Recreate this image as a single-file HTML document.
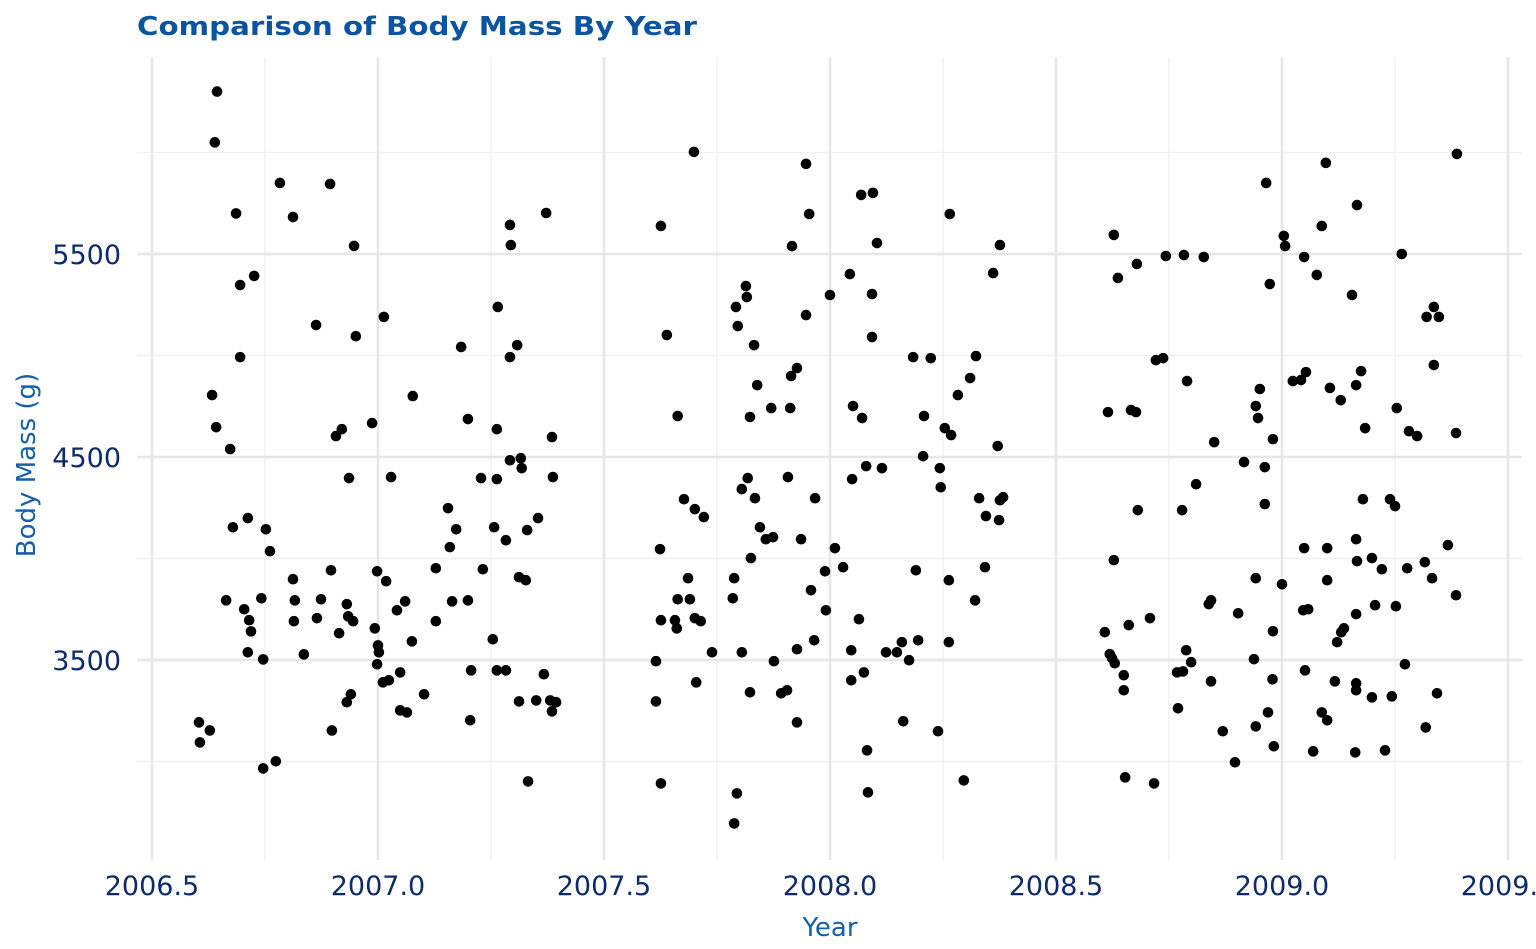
<!DOCTYPE html>
<html><head><meta charset="utf-8"><style>
html,body{margin:0;padding:0;background:#fff;overflow:hidden;}
svg{display:block;font-family:"DejaVu Sans","Liberation Sans",sans-serif;}
</style></head><body>
<svg id="chart" width="1536" height="949" viewBox="0 0 1536 949" xmlns="http://www.w3.org/2000/svg">
<text x="137" y="35" font-size="26" font-weight="bold" fill="#0b55a0" textLength="560" lengthAdjust="spacingAndGlyphs">Comparison of Body Mass By Year</text>
<g id="grid"></g>
<g id="points"></g>
<g id="axes"></g>
<text transform="translate(35,465) rotate(-90)" text-anchor="middle" font-size="26" fill="#1560a8">Body Mass (g)</text>
<text x="830" y="936" text-anchor="middle" font-size="26" fill="#1560a8">Year</text>
</svg>
<script>
const years = [
2006.644,2006.639,2006.686,2006.783,2006.894,2006.812,2006.695,2006.726,2006.947,2006.863,2007.013,2006.951,2006.695,2006.633,2006.642,2006.673,2007.077,2006.987,2006.920,2006.907,2006.936,2007.029,2006.679,2006.712,2006.752,2006.761,2006.664,2006.704,2006.742,2006.715,2006.719,2006.712,2006.746,2006.812,2006.816,2006.874,2006.814,2006.865,2006.836,2006.896,2006.931,2006.934,2006.945,2006.914,2006.940,2006.931,2006.998,2007.018,2006.993,2007.000,2007.002,2006.998,2007.042,2007.060,2007.075,2007.049,2007.024,2007.011,2007.049,2007.064,2007.102,2006.604,2006.628,2006.606,2006.746,2006.774,2006.898,2007.184,2007.199,2007.265,2007.292,2007.294,2007.292,2007.308,2007.372,2007.263,2007.385,2007.292,2007.316,2007.318,2007.228,2007.263,2007.387,2007.155,2007.173,2007.159,2007.257,2007.283,2007.354,2007.330,2007.128,2007.232,2007.164,2007.199,2007.128,2007.312,2007.327,2007.254,2007.206,2007.263,2007.283,2007.367,2007.312,2007.350,2007.381,2007.394,2007.385,2007.204,2007.332,
2007.699,2007.947,2007.626,2007.954,2008.069,2008.095,2008.265,2007.916,2008.104,2008.376,2007.814,2007.792,2007.816,2008.044,2008.000,2008.093,2008.361,2007.947,2007.639,2007.796,2007.832,2008.093,2008.184,2008.223,2008.323,2007.927,2007.914,2008.310,2007.839,2007.870,2007.912,2007.663,2007.823,2008.051,2008.071,2008.208,2008.283,2008.254,2008.268,2008.371,2008.206,2008.080,2008.115,2008.243,2008.049,2007.907,2007.818,2007.805,2008.245,2007.677,2007.701,2007.721,2007.834,2007.967,2008.330,2008.383,2008.376,2008.345,2008.374,2007.845,2007.858,2007.874,2007.936,2007.624,2008.011,2007.825,2008.029,2007.989,2008.190,2008.343,2007.686,2007.788,2008.263,2007.958,2007.663,2007.690,2007.785,2008.321,2007.991,2007.626,2007.657,2007.661,2007.701,2007.714,2008.064,2007.965,2008.159,2008.195,2008.263,2007.739,2007.805,2007.927,2008.047,2008.124,2008.148,2007.615,2007.876,2008.175,2008.075,2007.704,2008.047,2007.823,2007.892,2007.905,2007.615,2007.927,2008.162,2008.239,2008.082,2007.626,2008.296,2007.794,2008.084,2007.788,
2009.387,2009.097,2008.965,2009.166,2009.088,2008.628,2009.004,2009.007,2008.743,2008.783,2008.827,2009.049,2009.265,2008.679,2008.637,2009.077,2008.973,2009.155,2009.336,2009.320,2009.347,2008.721,2008.737,2009.336,2009.053,2009.175,2009.024,2009.042,2008.790,2008.951,2009.106,2009.164,2009.130,2008.942,2008.615,2008.666,2008.677,2008.947,2009.254,2009.184,2009.281,2009.299,2009.385,2008.980,2008.850,2008.916,2008.962,2008.810,2009.179,2009.239,2009.250,2008.962,2008.681,2008.779,2009.164,2009.049,2009.100,2009.367,2008.628,2009.166,2009.199,2009.221,2009.277,2009.316,2008.942,2009.000,2009.100,2009.332,2009.385,2008.843,2008.838,2009.047,2009.058,2009.206,2009.252,2009.164,2008.903,2008.708,2008.661,2009.137,2009.131,2008.608,2008.980,2009.122,2008.619,2008.624,2008.630,2008.788,2008.799,2008.938,2009.272,2008.650,2008.768,2008.781,2009.051,2008.843,2008.979,2009.117,2009.164,2008.650,2009.164,2009.199,2009.243,2009.343,2008.770,2008.969,2009.088,2009.100,2008.869,2008.942,2009.318,2008.982,2009.069,2009.162,2009.228,2008.896,2008.653,2008.717
];
const masses = [
6300,6050,5700,5850,5845,5682,5347,5392,5540,5150,5190,5095,4992,4805,4647,4539,4800,4667,4637,4603,4396,4401,4154,4199,4144,4036,3794,3750,3804,3696,3641,3538,3503,3898,3794,3799,3691,3706,3528,3942,3775,3715,3691,3632,3331,3292,3937,3888,3656,3572,3538,3479,3745,3789,3592,3439,3400,3390,3252,3242,3331,3193,3153,3094,2966,3001,3153,5042,4687,5239,5643,5544,4992,5051,5702,4637,4598,4484,4494,4445,4396,4391,4401,4248,4144,4056,4154,4090,4199,4140,3952,3947,3789,3794,3691,3908,3893,3602,3449,3449,3449,3430,3296,3301,3301,3292,3247,3203,2902,
6003,5944,5638,5697,5791,5801,5697,5539,5554,5544,5342,5239,5288,5401,5298,5303,5406,5199,5101,5145,5051,5091,4992,4987,4997,4938,4899,4889,4854,4741,4741,4702,4697,4751,4692,4702,4805,4642,4608,4554,4504,4455,4445,4445,4391,4401,4396,4342,4351,4292,4243,4204,4297,4297,4297,4302,4287,4209,4189,4154,4095,4105,4095,4046,4051,4002,3957,3937,3942,3957,3903,3903,3893,3844,3799,3799,3804,3794,3745,3696,3696,3656,3706,3691,3701,3597,3588,3597,3588,3538,3538,3553,3548,3538,3538,3494,3494,3499,3439,3390,3400,3341,3336,3351,3296,3193,3198,3149,3055,2892,2907,2843,2848,2695,
5993,5949,5850,5741,5638,5594,5589,5539,5490,5495,5485,5485,5500,5451,5382,5397,5352,5298,5239,5190,5190,4977,4987,4953,4918,4923,4874,4879,4874,4835,4840,4854,4780,4751,4721,4731,4721,4692,4741,4642,4627,4603,4618,4588,4573,4475,4450,4366,4292,4292,4258,4268,4238,4238,4095,4051,4051,4066,3992,3987,4002,3947,3952,3982,3903,3873,3893,3903,3819,3794,3775,3745,3750,3770,3765,3726,3730,3706,3672,3656,3637,3637,3642,3588,3529,3509,3484,3548,3489,3504,3479,3425,3439,3444,3449,3395,3405,3395,3385,3351,3351,3316,3321,3336,3262,3242,3242,3203,3149,3173,3168,3075,3050,3045,3055,2996,2922,2892
];
const xTicks = [2006.5,2007.0,2007.5,2008.0,2008.5,2009.0,2009.5];
const xTickLabels = ["2006.5","2007.0","2007.5","2008.0","2008.5","2009.0","2009.5"];
const yTicks = [3500,4500,5500];
const yTickLabels = ["3500","4500","5500"];
const yMinor = [3000,4000,5000,6000];

const NS="http://www.w3.org/2000/svg";
const PL=137, PR=1522, PT=57, PB=860;
function xs(v){return 152+(v-2006.5)*452;}
function ys(v){return 254+(5500-v)*0.203;}
function mk(tag,attrs,parent){const e=document.createElementNS(NS,tag);for(const k in attrs)e.setAttribute(k,attrs[k]);parent.appendChild(e);return e;}
const grid=document.getElementById('grid'), pts=document.getElementById('points'), axes=document.getElementById('axes');
yMinor.forEach(v=>{const l=mk('line',{x1:PL,x2:PR,y1:ys(v),y2:ys(v),stroke:'#f0f0f0','stroke-width':1.5},grid);

});
xTicks.forEach((v,i)=>{if(i<xTicks.length-1){const mv=v+0.25;const l=mk('line',{x1:xs(mv),x2:xs(mv),y1:PT,y2:PB,stroke:'#f0f0f0','stroke-width':1.5},grid);

}});
yTicks.forEach((v,i)=>{const l=mk('line',{x1:PL,x2:PR,y1:ys(v),y2:ys(v),stroke:'#e6e6e6','stroke-width':2.5},grid);


const t=mk('text',{x:121,y:ys(v)+10,'text-anchor':'end','font-size':27,fill:'#0d2a6b'},axes);
t.textContent=yTickLabels[i];

});
xTicks.forEach((v,i)=>{const l=mk('line',{x1:xs(v),x2:xs(v),y1:PT,y2:PB,stroke:'#e6e6e6','stroke-width':2.5},grid);


const t=mk('text',{x:xs(v),y:895,'text-anchor':'middle','font-size':27,fill:'#0d2a6b'},axes);
t.textContent=xTickLabels[i];

});
for(let i=0;i<years.length;i++){const c=mk('circle',{cx:xs(years[i]),cy:ys(masses[i]),r:5.3,fill:'#000'},pts);

}
</script>
</body></html>
